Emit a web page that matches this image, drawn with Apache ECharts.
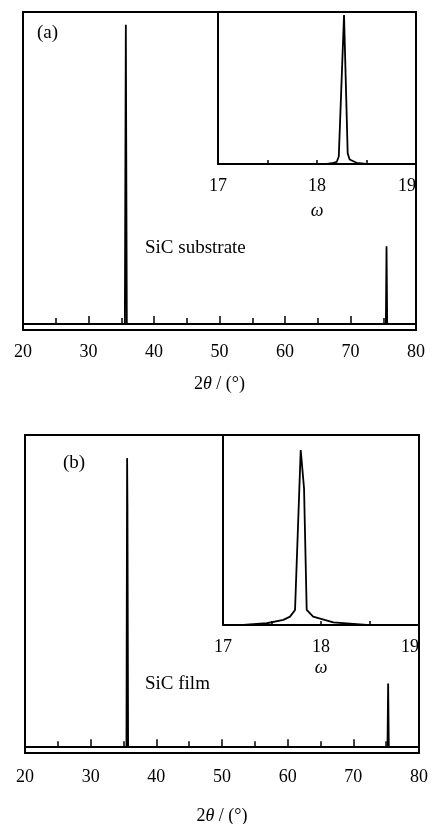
<!DOCTYPE html>
<html>
<head>
<meta charset="utf-8">
<script src="https://cdn.jsdelivr.net/npm/echarts@6/dist/echarts.min.js"></script>
<style>
  html, body { margin: 0; padding: 0; background: #fff; }
  #chart { width: 432px; height: 824px; }
</style>
</head>
<body>
<div id="chart"></div>
<script>
  // (a) SiC substrate, 2theta scan: [2theta, intensity]
  const scanA = [[20, 0], [35.55, 0], [35.7, 100], [35.85, 0], [75.4, 0], [75.5, 26], [75.6, 0], [80, 0]];
  // (a) inset, omega rocking curve
  const rockA = [[17, 0], [18.1, 0], [18.15, 0.5], [18.2, 1.5], [18.22, 5], [18.273, 100],
    [18.31, 7], [18.33, 3], [18.4, 0.8], [18.5, 0], [19, 0]];
  // (b) SiC film
  const scanB = [[20, 0], [35.45, 0], [35.55, 100], [35.6, 83], [35.7, 0], [75.2, 0], [75.3, 22], [75.4, 0], [80, 0]];
  const rockB = [[17, 0], [17.207, 0], [17.446, 1], [17.616, 2.9], [17.684, 4.8], [17.735, 8.6], [17.793, 100],
    [17.827, 78], [17.854, 8.6], [17.92, 4.8], [18.126, 1.5], [18.466, 0], [19, 0]];

  const mainTicks = [20, 30, 40, 50, 60, 70, 80];
  const insetTicks = [17, 18, 19];

  const serif = '"Liberation Serif", "DejaVu Serif", serif';
  const black = '#000';

  const myChart = echarts.init(document.getElementById('chart'));

  function mainX(gridIndex, labelMargin, nameGap) {
    return {
      type: 'value', gridIndex, min: mainTicks[0], max: mainTicks[mainTicks.length - 1], interval: 10,
      axisLine: { show: true, lineStyle: { color: black, width: 2 } },
      axisTick: { show: true, inside: true, length: 8, lineStyle: { color: black, width: 1.5 } },
      minorTick: { show: true, splitNumber: 2, length: 6, lineStyle: { color: black, width: 1.5 } },
      axisLabel: { color: black, fontFamily: serif, fontSize: 18, margin: labelMargin },
      splitLine: { show: false },
      name: '{n|2}{i|θ}{n| / (°)}',
      nameLocation: 'middle',
      nameGap,
      nameTextStyle: {
        rich: {
          n: { fontFamily: serif, fontSize: 18, color: black },
          i: { fontFamily: serif, fontSize: 18, color: black, fontStyle: 'italic' },
        },
      },
    };
  }

  function insetX(gridIndex, nameGap) {
    return {
      type: 'value', gridIndex, min: insetTicks[0], max: insetTicks[insetTicks.length - 1], interval: 1,
      axisLine: { show: true, lineStyle: { color: black, width: 2 } },
      axisTick: { show: true, inside: true, length: 4, lineStyle: { color: black, width: 1.5 } },
      minorTick: { show: true, splitNumber: 2, length: 4, lineStyle: { color: black, width: 1.5 } },
      axisLabel: { color: black, fontFamily: serif, fontSize: 18, margin: 13, alignMaxLabel: 'right' },
      splitLine: { show: false },
      name: 'ω',
      nameLocation: 'middle',
      nameGap,
      nameTextStyle: { fontFamily: serif, fontSize: 18, fontStyle: 'italic', color: black },
    };
  }

  function hiddenY(gridIndex, min, max, showLine) {
    return {
      type: 'value', gridIndex, min, max,
      axisLine: { show: showLine, lineStyle: { color: black, width: 2 } },
      axisTick: { show: false },
      axisLabel: { show: false },
      splitLine: { show: false },
    };
  }

  function trace(idx, data) {
    return {
      type: 'line', xAxisIndex: idx, yAxisIndex: idx, data,
      showSymbol: false, symbol: 'none', silent: true,
      lineStyle: { color: black, width: 1.8 },
    };
  }

  const option = {
    animation: false,
    backgroundColor: '#fff',
    grid: [
      { left: 23, right: 16, top: 12, bottom: 494, show: true, borderColor: black, borderWidth: 2, outerBoundsMode: 'none' },
      { left: 218, right: 16, top: 12, bottom: 660, outerBoundsMode: 'none' },
      { left: 25, right: 13, top: 435, bottom: 71, show: true, borderColor: black, borderWidth: 2, outerBoundsMode: 'none' },
      { left: 223, right: 13, top: 435, bottom: 199, outerBoundsMode: 'none' },
    ],
    xAxis: [mainX(0, 13, 45), insetX(1, 38), mainX(2, 15, 54), insetX(3, 34)],
    yAxis: [
      hiddenY(0, -2, 104.3, false),
      hiddenY(1, 0, 102, true),
      hiddenY(2, -2, 108, false),
      hiddenY(3, 0, 108.6, true),
    ],
    series: [trace(0, scanA), trace(1, rockA), trace(2, scanB), trace(3, rockB)],
    graphic: [
      { type: 'text', left: 37, top: 24, style: { text: '(a)', font: '19px ' + serif, fill: black } },
      { type: 'text', left: 145, top: 239, style: { text: 'SiC substrate', font: '19px ' + serif, fill: black } },
      { type: 'text', left: 63, top: 454, style: { text: '(b)', font: '19px ' + serif, fill: black } },
      { type: 'text', left: 145, top: 675, style: { text: 'SiC film', font: '19px ' + serif, fill: black } },
    ],
  };

  myChart.setOption(option);
</script>
</body>
</html>
